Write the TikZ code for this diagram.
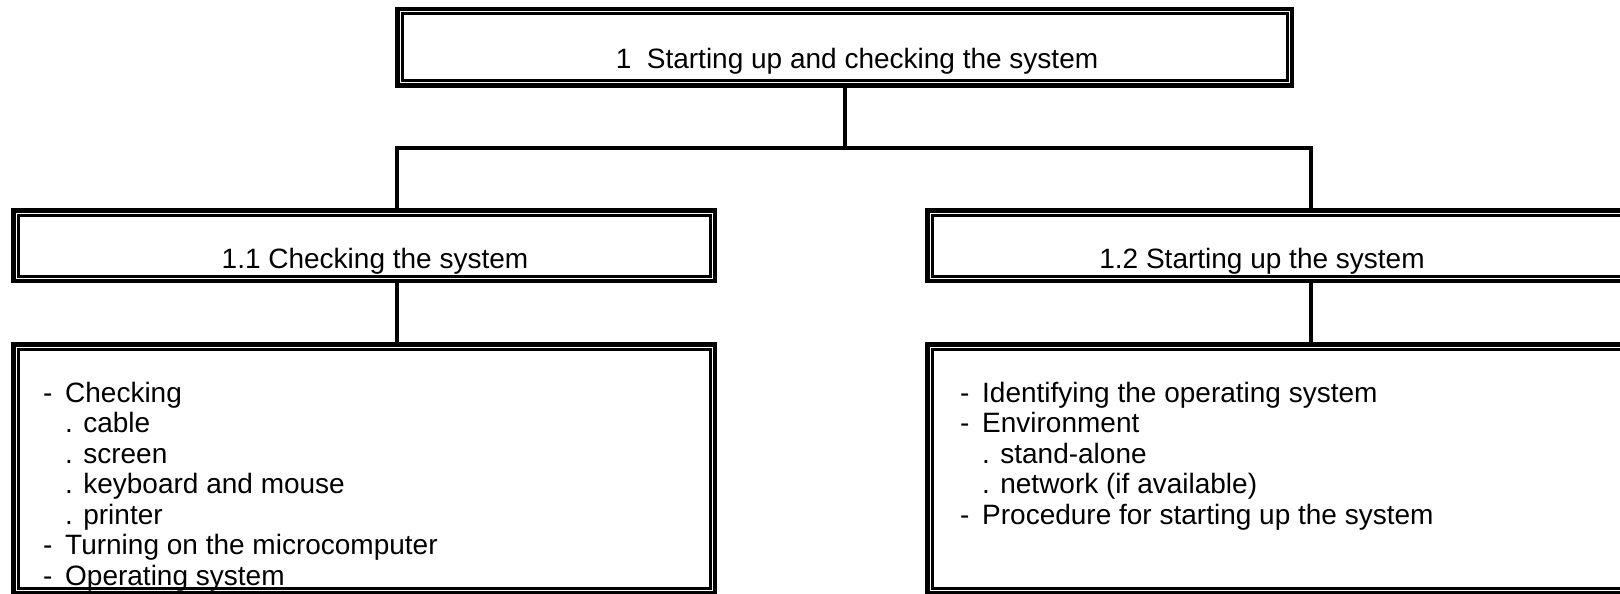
\documentclass[tikz,border=0pt]{standalone}
\usepackage{fontspec}
\setmainfont{Liberation Sans}
\usepackage{tikz}

\newcommand{\itemdash}[1]{\makebox[22pt][l]{-}#1}
\newcommand{\itemdot}[1]{\hspace*{22pt}. #1}

\tikzset{
  dblbox/.style={draw, line width=3pt, inner sep=0pt, outer sep=7pt},
  frame/.style={line width=4.5pt},
  link/.style={line width=4pt},
  title/.style={anchor=base, inner sep=0pt},
  list/.style={anchor=north west, align=left, inner sep=0pt,
    font=\fontsize{28}{30.5}\selectfont}
}

\begin{document}
\begin{tikzpicture}[x=1pt,y=1pt,font=\fontsize{28}{30.5}\selectfont]

\useasboundingbox (0,0) rectangle (1620,-594);
\clip (0,0) rectangle (1620,-594);

% boxes (inner line)
\node[dblbox, minimum width=885pt, minimum height=67pt] (top) at (844.5,-47.5) {};
\node[dblbox, minimum width=692pt, minimum height=61pt] (l1) at (364,-245.5) {};
\node[dblbox, minimum width=761pt, minimum height=61pt] (r1) at (1312.5,-245.5) {};
\node[dblbox, minimum width=692pt, minimum height=239pt] (l2) at (364,-468.5) {};
\node[dblbox, minimum width=761pt, minimum height=239pt] (r2) at (1312.5,-468.5) {};

% thick outer frames
\foreach \b in {top,l1,r1,l2,r2}
  \draw[frame] ([xshift=2.25pt,yshift=-2.25pt]\b.north west) rectangle ([xshift=-2.25pt,yshift=2.25pt]\b.south east);

% connectors
\coordinate (jl) at (397,-148);
\coordinate (jr) at (1311,-148);
\draw[link] (top.south) -- (top.south |- jl);
\draw[link] (jl |- l1.north) -- (jl) -- (jr) -- (jr |- r1.north);
\draw[link] (jl |- l1.south) -- (jl |- l2.north);
\draw[link] (jr |- r1.south) -- (jr |- r2.north);

% texts
\node[title] (ttop) at (857,-69) {1~~Starting up and checking the system};
\node[title] (tl1) at (375,-268) {1.1 Checking the system};
\node[title] (tr1) at (1262,-268) {1.2 Starting up the system};

\node[list] (tl2) at (43,-382) {\itemdash{Checking}\\
  \itemdot{cable}\\
  \itemdot{screen}\\
  \itemdot{keyboard and mouse}\\
  \itemdot{printer}\\
  \itemdash{Turning on the microcomputer}\\
  \itemdash{Operating system}};

\node[list] (tr2) at (960,-382) {\itemdash{Identifying the operating system}\\
  \itemdash{Environment}\\
  \itemdot{stand-alone}\\
  \itemdot{network (if available)}\\
  \itemdash{Procedure for starting up the system}};

\end{tikzpicture}
\end{document}
